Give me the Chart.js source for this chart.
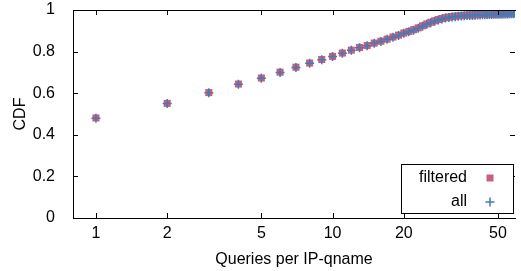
<!DOCTYPE html>
<html>
<head>
<meta charset="utf-8">
<script src="https://cdn.jsdelivr.net/npm/chart.js@4"></script>
<style>
  html, body { margin: 0; padding: 0; background: #fff; }
  #wrap { width: 521px; height: 271px; }
</style>
</head>
<body>
<div id="wrap"><canvas id="cdf" width="521" height="271"></canvas></div>
<script>
// --- data ---
const queries = [1, 2, 3, 4, 5, 6, 7, 8, 9, 10, 11, 12, 13, 14, 15, 16, 17, 18, 19, 20,
    21, 22, 23, 24, 25, 26, 27, 28, 29, 30, 31, 32, 33, 34, 35, 36, 37, 38, 39, 40,
    41, 42, 43, 44, 45, 46, 47, 48, 49, 50, 51, 52, 53, 54, 55, 56, 57, 58, 59];
const cdfAll = [0.480, 0.550, 0.602, 0.643, 0.672, 0.700, 0.724, 0.744, 0.761, 0.776,
    0.792, 0.806, 0.819, 0.828, 0.840, 0.849, 0.859, 0.869, 0.878, 0.888,
    0.896, 0.903, 0.912, 0.922, 0.931, 0.939, 0.946, 0.952, 0.957, 0.961,
    0.964, 0.966, 0.968, 0.970, 0.971, 0.972, 0.973, 0.974, 0.974, 0.975,
    0.976, 0.976, 0.977, 0.977, 0.978, 0.978, 0.978, 0.979, 0.979, 0.980,
    0.980, 0.980, 0.981, 0.981, 0.981, 0.982, 0.982, 0.982, 0.983];
const cdfFiltered = [0.481, 0.551, 0.603, 0.644, 0.673, 0.701, 0.725, 0.745, 0.762, 0.777,
    0.793, 0.807, 0.820, 0.829, 0.841, 0.850, 0.860, 0.870, 0.879, 0.889,
    0.897, 0.905, 0.914, 0.924, 0.933, 0.941, 0.948, 0.954, 0.959, 0.963,
    0.966, 0.968, 0.970, 0.972, 0.973, 0.974, 0.975, 0.976, 0.976, 0.977,
    0.978, 0.978, 0.979, 0.979, 0.980, 0.980, 0.980, 0.981, 0.981, 0.982,
    0.982, 0.982, 0.983, 0.983, 0.983, 0.984, 0.984, 0.984, 0.985];
const xTicks = [1, 2, 5, 10, 20, 50];
const yTicks = [0, 0.2, 0.4, 0.6, 0.8, 1];
const seriesNames = ['filtered', 'all'];

const RED = '#cb5f79';
const BLUE = '#4679b5';
const FONT = 'Liberation Sans, Arial, Helvetica, sans-serif';

function toPoints(ys) {
    return queries.map((q, i) => ({ x: q, y: ys[i] }));
}

// gnuplot style frame with inward tics + legend box
const framePlugin = {
    id: 'frame',
    afterDatasetsDraw(chart) {
        const { ctx, chartArea: a, scales } = chart;
        ctx.save();
        ctx.strokeStyle = '#000';
        ctx.lineWidth = 1;
        ctx.beginPath();
        ctx.moveTo(Math.round(a.left) + 0.5, Math.round(a.top) + 0.5);
        ctx.lineTo(Math.round(a.left) + 0.5, Math.round(a.bottom) + 0.5);
        ctx.lineTo(a.right + 1, Math.round(a.bottom) + 0.5);
        ctx.moveTo(Math.round(a.left) + 0.5, Math.round(a.top) + 0.5);
        ctx.lineTo(a.right + 1, Math.round(a.top) + 0.5);
        ctx.stroke();

        const tl = 5;
        ctx.beginPath();
        xTicks.forEach(v => {
            const px = Math.round(scales.x.getPixelForValue(v)) + 0.5;
            ctx.moveTo(px, a.bottom); ctx.lineTo(px, a.bottom - tl);
            ctx.moveTo(px, a.top); ctx.lineTo(px, a.top + tl);
        });
        yTicks.forEach(v => {
            const py = Math.round(scales.y.getPixelForValue(v)) + 0.5;
            ctx.moveTo(a.left, py); ctx.lineTo(a.left + tl, py);
            ctx.moveTo(a.right, py); ctx.lineTo(a.right - tl, py);
        });
        ctx.stroke();

        // legend
        const bx = 401.5, by = 164.5, bw = 112, bh = 49;
        ctx.fillStyle = '#fff';
        ctx.fillRect(bx, by, bw, bh);
        ctx.strokeRect(bx, by, bw, bh);
        ctx.font = '16px ' + FONT;
        ctx.fillStyle = '#000';
        ctx.textAlign = 'right';
        ctx.textBaseline = 'middle';
        ctx.fillText(seriesNames[0], 467, 178);
        ctx.fillText(seriesNames[1], 467, 202);
        ctx.fillStyle = RED;
        ctx.fillRect(486.5, 174.5, 7, 7);
        ctx.strokeStyle = BLUE;
        ctx.lineWidth = 1.5;
        ctx.beginPath();
        ctx.moveTo(485.5, 202); ctx.lineTo(494.5, 202);
        ctx.moveTo(490, 197.5); ctx.lineTo(490, 206.5);
        ctx.stroke();
        ctx.restore();
    }
};

new Chart(document.getElementById('cdf'), {
    type: 'scatter',
    data: {
        datasets: [
            {
                label: seriesNames[1], data: toPoints(cdfAll),
                pointStyle: 'cross', pointRadius: 4.5, borderColor: BLUE, borderWidth: 1.5,
                backgroundColor: BLUE, pointHoverRadius: 4.5
            },
            {
                label: seriesNames[0], data: toPoints(cdfFiltered),
                pointStyle: 'rect', pointRadius: 5, borderWidth: 0, borderColor: RED,
                backgroundColor: RED, pointHoverRadius: 5
            }
        ]
    },
    options: {
        responsive: false,
        animation: false,
        events: [],
        layout: { padding: { top: 10, right: 0, left: 0, bottom: 0 } },
        plugins: { legend: { display: false }, tooltip: { enabled: false } },
        scales: {
            x: {
                type: 'logarithmic', min: 0.8, max: 59,
                afterBuildTicks: s => { s.ticks = xTicks.map(v => ({ value: v })); },
                afterFit: s => { s.height = 53; s.paddingLeft = 0; s.paddingRight = 0; },
                grid: { display: false },
                border: { display: false },
                ticks: {
                    color: '#000', padding: -2, maxRotation: 0, autoSkip: false,
                    font: { family: FONT, size: 16 },
                    callback: v => String(v)
                },
                title: {
                    display: true, text: 'Queries per IP-qname', color: '#000',
                    font: { family: FONT, size: 16 }, padding: { top: 0, bottom: 2 }
                }
            },
            y: {
                min: 0, max: 1,
                afterBuildTicks: s => { s.ticks = yTicks.map(v => ({ value: v })); },
                afterFit: s => { s.width = 73; s.paddingTop = 0; s.paddingBottom = 0; },
                grid: { display: false },
                border: { display: false },
                ticks: {
                    color: '#000', padding: 10,
                    font: { family: FONT, size: 16 },
                    callback: v => String(v)
                },
                title: {
                    display: true, text: 'CDF', color: '#000',
                    font: { family: FONT, size: 16 }, padding: { top: 11, bottom: 0 }
                }
            }
        }
    },
    plugins: [framePlugin]
});
</script>
</body>
</html>
